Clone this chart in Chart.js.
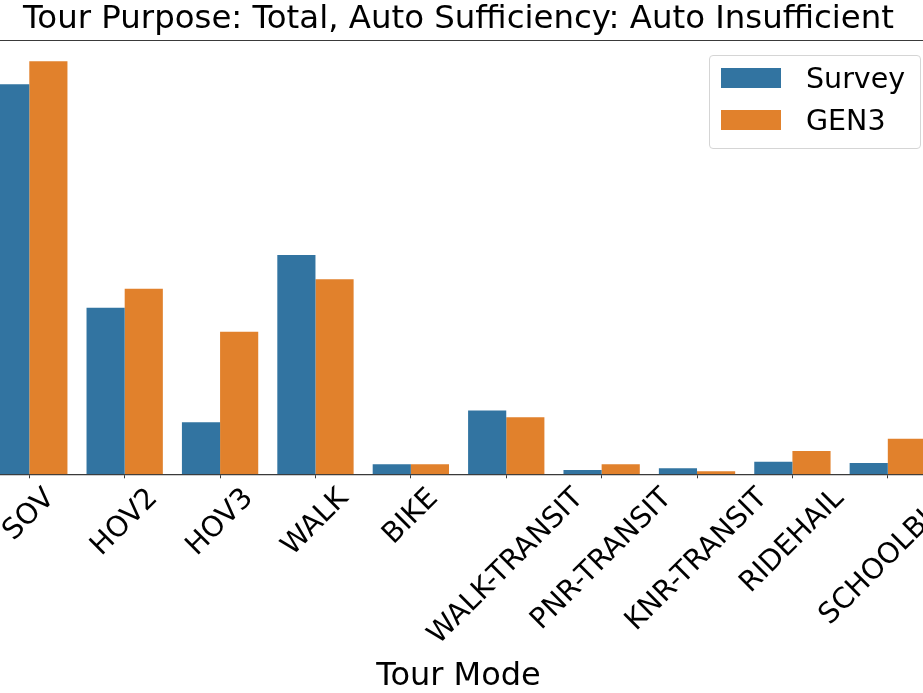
<!DOCTYPE html>
<html>
<head>
<meta charset="utf-8">
<script src="https://cdn.jsdelivr.net/npm/chart.js@4/dist/chart.umd.min.js"></script>
<style>
    body { margin: 0; background: #fff; overflow: hidden; width: 923px; height: 693px; position: relative; }
    #wrap { position: absolute; left: -100px; top: 0; width: 1100px; height: 693px; }
    #legend {
        position: absolute; left: 709px; top: 55px; width: 212px; height: 94px;
        box-sizing: border-box; border: 1px solid #d5d5d5; border-radius: 4px;
        background: rgba(255, 255, 255, 0.8); padding: 1px 0 0 11px;
        font: 28.5px "DejaVu Sans"; color: #000; z-index: 2;
    }
    #legend .item { display: flex; align-items: center; height: 42px; }
    #legend .swatch { width: 60px; height: 20px; margin-right: 25px; }
</style>
</head>
<body>
<div id="wrap"><canvas id="modeChart"></canvas></div>
<div id="legend"></div>
<script>
// tour counts (axis is cropped, units are relative)
const modes = ['SOV', 'HOV2', 'HOV3', 'WALK', 'BIKE', 'WALK-TRANSIT', 'PNR-TRANSIT', 'KNR-TRANSIT', 'RIDEHAIL', 'SCHOOLBUS'];
const survey = [3910, 1670, 523, 2200, 100, 640, 43, 60, 126, 113];
const gen3 = [4143, 1860, 1430, 1956, 100, 573, 100, 30, 233, 356];

const titleText = 'Tour Purpose: Total, Auto Sufficiency: Auto Insufficient';
const xTitle = 'Tour Mode';

const blue = '#3274a1';
const orange = '#e1812c';
const spine = '#3a3a3a';
const font = 'DejaVu Sans';
const tickSize = 28.5;

document.addEventListener('DOMContentLoaded', () => {
    const canvas = document.getElementById('modeChart');

    // matplotlib style rotated tick labels (centred on the tick) plus the top spine
    const mplTicks = {
        id: 'mplTicks',
        afterDraw(chart) {
            const { ctx, chartArea, scales: { x } } = chart;
            ctx.save();
            ctx.strokeStyle = spine;
            ctx.lineWidth = 1.2;
            ctx.beginPath();
            ctx.moveTo(chartArea.left, chartArea.top);
            ctx.lineTo(chartArea.right, chartArea.top);
            ctx.stroke();

            ctx.font = `${tickSize}px "${font}"`;
            ctx.fillStyle = '#000';
            ctx.textAlign = 'center';
            ctx.textBaseline = 'middle';
            const h = tickSize * 1.16;
            modes.forEach((label, i) => {
                const w = ctx.measureText(label).width;
                const half = (w + h) * Math.SQRT1_2 / 2;
                ctx.save();
                ctx.translate(x.getPixelForTick(i), chartArea.bottom + 8 + half);
                ctx.rotate(-Math.PI / 4);
                ctx.fillText(label, 0, 0);
                ctx.restore();
            });
            ctx.restore();
        }
    };

    // legend box built from the datasets
    const htmlLegend = {
        id: 'htmlLegend',
        afterUpdate(chart) {
            const box = document.getElementById('legend');
            box.innerHTML = '';
            chart.data.datasets.forEach(ds => {
                const row = document.createElement('div');
                row.className = 'item';
                const sw = document.createElement('span');
                sw.className = 'swatch';
                sw.style.background = ds.backgroundColor;
                const txt = document.createElement('span');
                txt.textContent = ds.label;
                row.append(sw, txt);
                box.appendChild(row);
            });
        }
    };

    new Chart(canvas, {
        type: 'bar',
        data: {
            labels: modes,
            datasets: [
                { label: 'Survey', data: survey, backgroundColor: blue, borderWidth: 0 },
                { label: 'GEN3', data: gen3, backgroundColor: orange, borderWidth: 0 }
            ]
        },
        options: {
            responsive: true,
            maintainAspectRatio: false,
            animation: false,
            categoryPercentage: 0.8,
            barPercentage: 1.0,
            layout: { padding: { left: 81.6, right: 64.5, top: 0, bottom: 0 } },
            plugins: {
                legend: { display: false },
                tooltip: { enabled: false },
                title: {
                    display: true,
                    text: titleText,
                    fullSize: false,
                    color: '#000',
                    font: { family: font, size: 32.4, weight: 'normal', lineHeight: 1.2 },
                    padding: { top: 0.3, bottom: 1.3 }
                }
            },
            scales: {
                x: {
                    ticks: { display: false },
                    grid: {
                        offset: false,
                        drawOnChartArea: false,
                        drawTicks: true,
                        tickLength: 4,
                        tickColor: spine,
                        lineWidth: 1
                    },
                    border: { display: true, color: spine, width: 1.2 },
                    title: {
                        display: true,
                        text: xTitle,
                        color: '#000',
                        font: { family: font, size: 32, lineHeight: 1 },
                        padding: { top: 0, bottom: 0 }
                    },
                    afterFit: (scale) => { scale.height = 218.7; }
                },
                y: {
                    display: false,
                    min: 0,
                    max: Math.max(...survey, ...gen3) * 1.05
                }
            }
        },
        plugins: [mplTicks, htmlLegend]
    });
});
</script>
</body>
</html>
